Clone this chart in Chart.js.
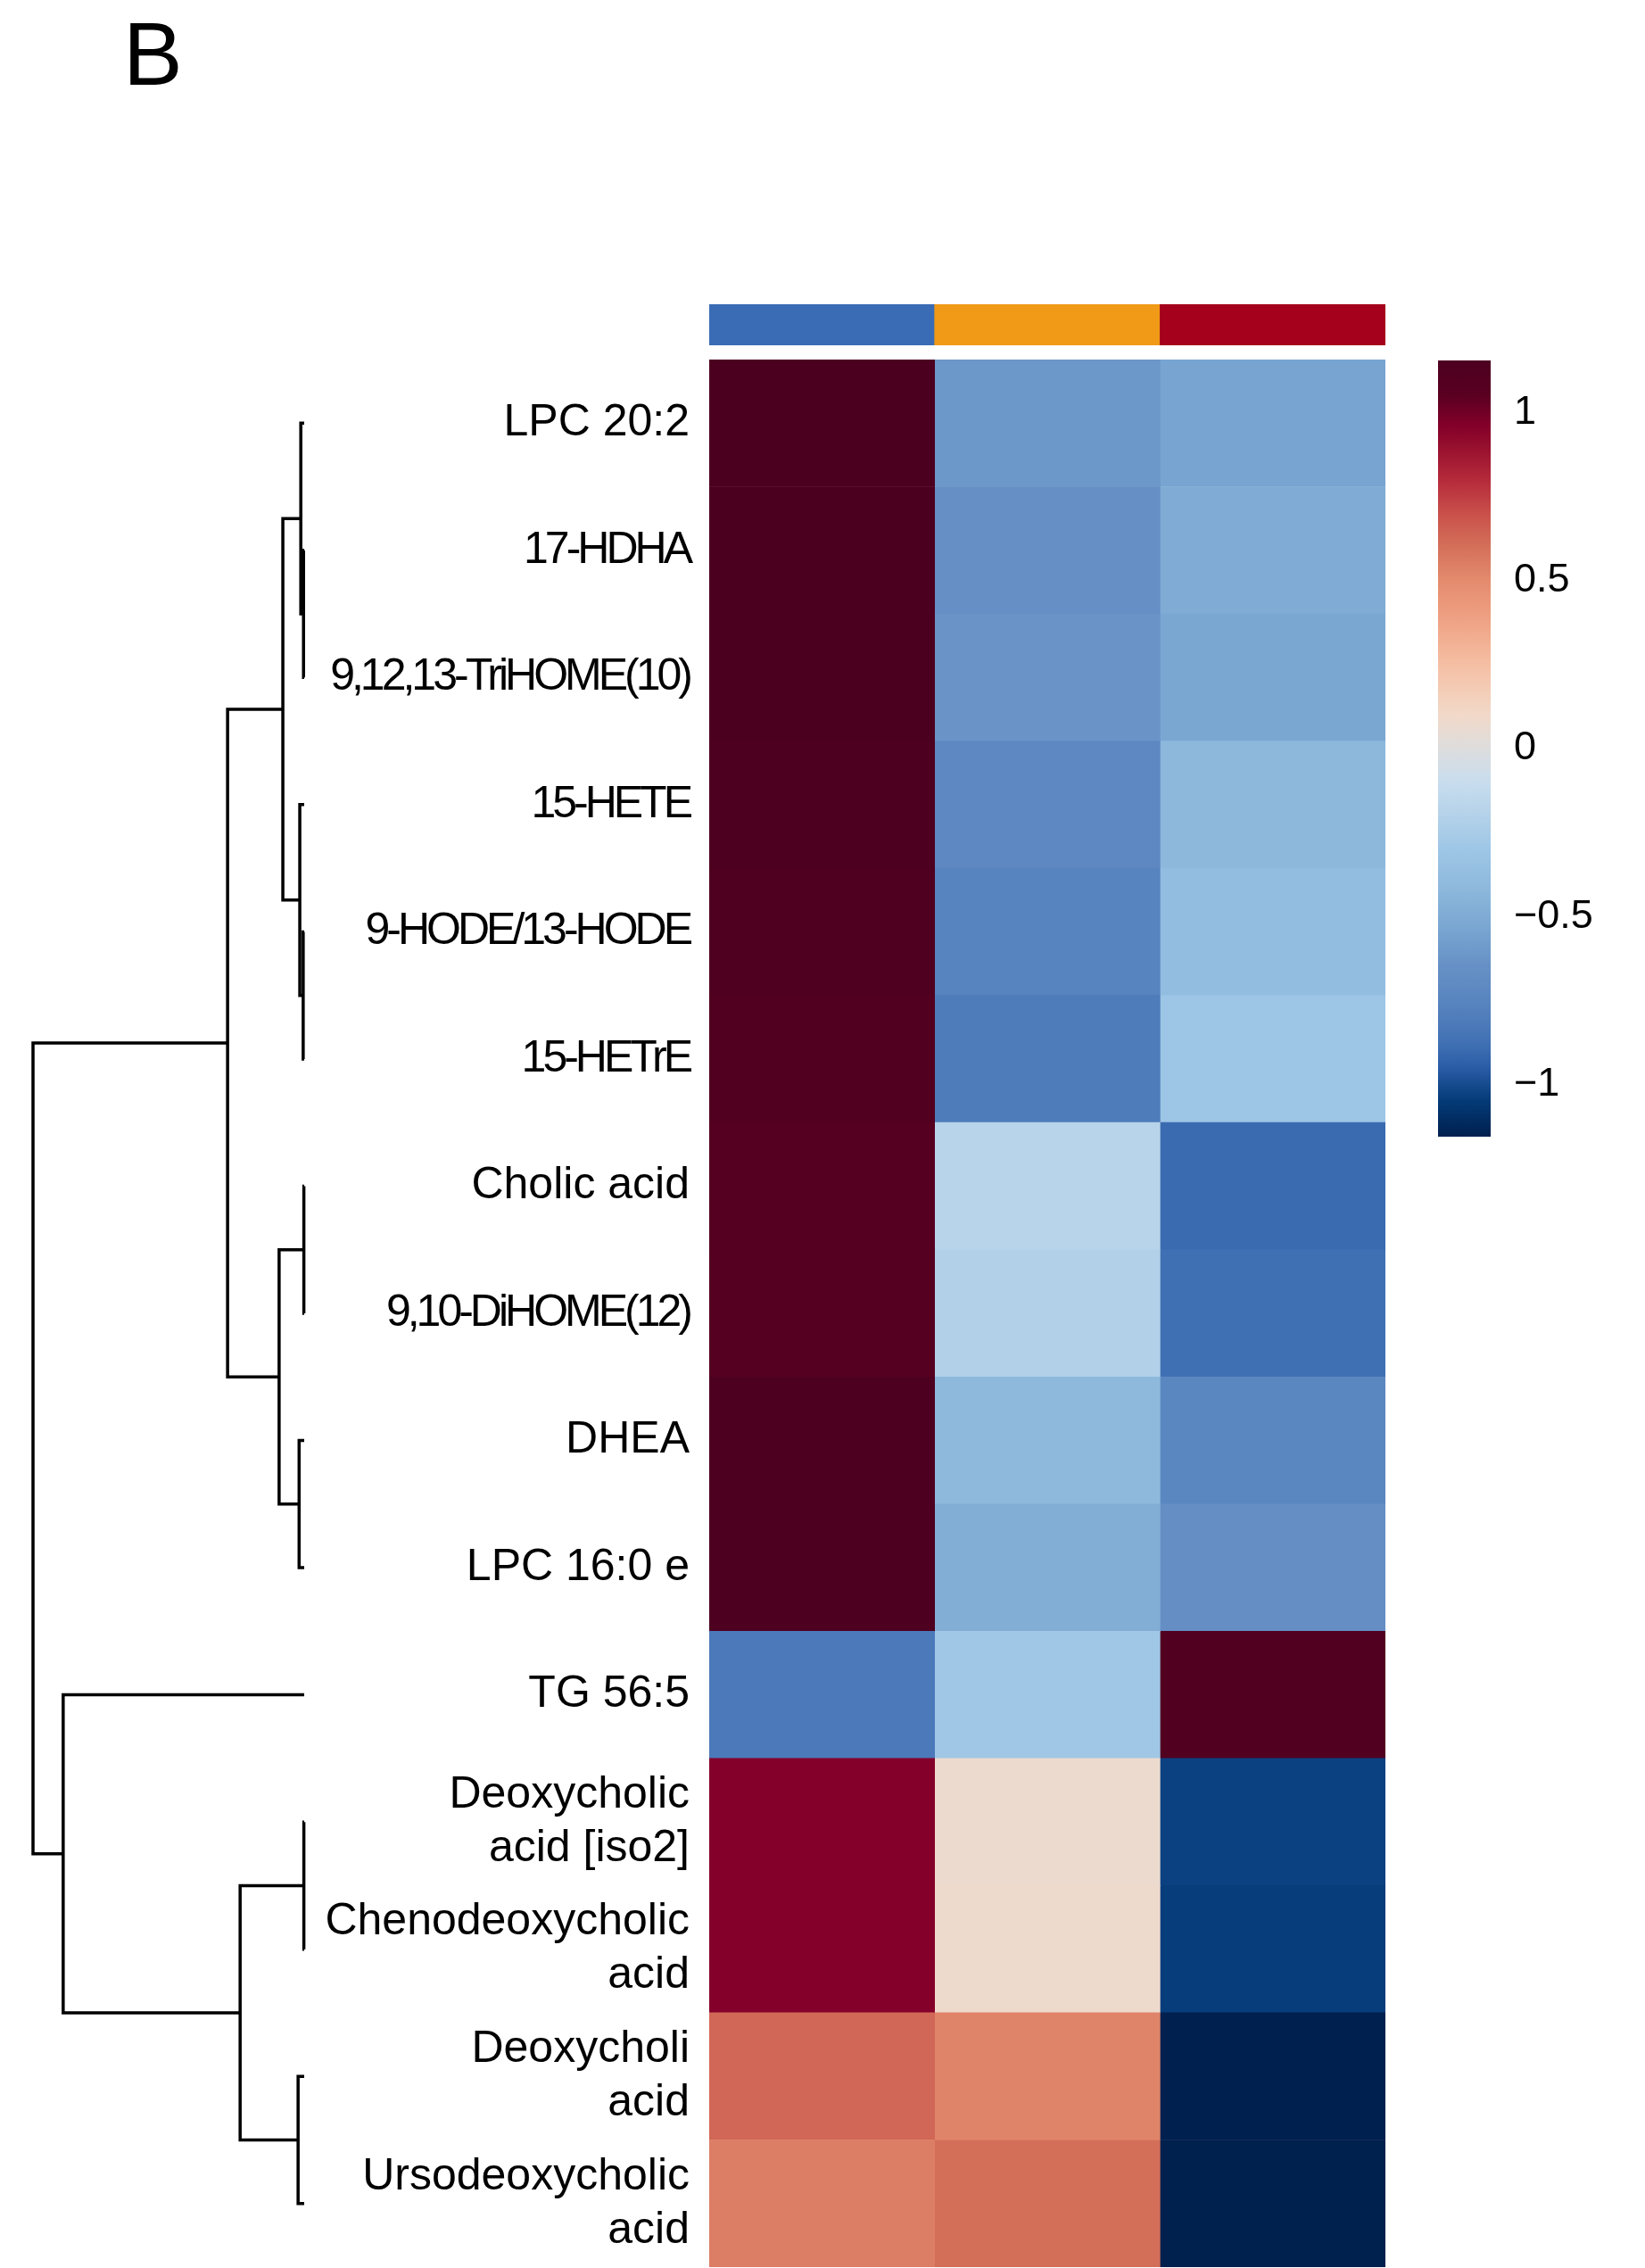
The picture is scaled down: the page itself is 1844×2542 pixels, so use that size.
<!DOCTYPE html>
<html>
<head>
<meta charset="utf-8">
<title>Heatmap B</title>
<script src="https://cdn.jsdelivr.net/npm/chart.js@4.4.1/dist/chart.umd.min.js"></script>
<style>
  html, body { margin: 0; padding: 0; background: #fff; }
  body { width: 1844px; height: 2542px; position: relative; overflow: hidden; }
  canvas { position: absolute; }
  #panel { position: absolute; left: 138px; top: 10px; font: 100px/100px "Liberation Sans", Arial, sans-serif; color: #000; }
</style>
</head>
<body>
<div id="panel">B</div>
<canvas id="dendro" width="345" height="2138" style="left:0;top:403px"></canvas>
<canvas id="annot" width="758" height="46" style="left:795px;top:341px"></canvas>
<canvas id="heat" width="1253" height="2138" style="left:300px;top:403px"></canvas>
<canvas id="cbar" width="232" height="870" style="left:1612px;top:404px"></canvas>
<script>
"use strict";
var rowLabels = [
    "LPC 20:2", "17-HDHA", "9,12,13-TriHOME(10)", "15-HETE", "9-HODE/13-HODE", "15-HETrE",
    "Cholic acid", "9,10-DiHOME(12)", "DHEA", "LPC 16:0 e", "TG 56:5",
    ["Deoxycholic", "acid [iso2]"], ["Chenodeoxycholic", "acid"], ["Deoxycholi", "acid"], ["Ursodeoxycholic", "acid"]
];
var narrowRows = [1, 2, 3, 4, 5, 7];
var groups = ["Group 1", "Group 2", "Group 3"];
var groupColors = ["#3a6cb5", "#f09a18", "#a5001c"];

// row z-scores, one array per column
var zCol1 = [1.154, 1.152, 1.153, 1.142, 1.134, 1.118, 1.077, 1.088, 1.140, 1.150, -0.822, 0.96, 0.96, 0.627, 0.547];
var zCol2 = [-0.612, -0.651, -0.627, -0.721, -0.757, -0.809, -0.179, -0.209, -0.410, -0.485, -0.292, 0.07, 0.08, 0.527, 0.607];
var zCol3 = [-0.542, -0.501, -0.527, -0.421, -0.377, -0.309, -0.899, -0.879, -0.730, -0.665, 1.114, -1.03, -1.04, -1.153, -1.154];

var colorTicks = [-1, -0.5, 0, 0.5, 1];
var zMin = -1.155, zMax = 1.155;

// dendrogram merges: [left, right, height]; leaves are 0..14, node k is 15+k
var merges = [
    [1, 2, 0.02], [0, 15, 0.10], [4, 5, 0.03], [3, 17, 0.13], [16, 18, 0.63],
    [6, 7, 0.01], [8, 9, 0.15], [20, 21, 0.74], [19, 22, 2.26],
    [11, 12, 0.01], [13, 14, 0.18], [24, 25, 1.89], [10, 26, 7.11], [23, 27, 8.0]
];

var palV = [-1.155, -1.05, -0.95, -0.88, -0.8, -0.74, -0.65, -0.55, -0.42, -0.3, -0.2, -0.1, 0, 0.1, 0.25, 0.4, 0.5, 0.6, 0.7, 0.8, 0.9, 0.96, 1.05, 1.155];
var palC = ["#00204e", "#033a76", "#2a5ca6", "#4070b4", "#507dbb", "#5a86c0", "#6690c5", "#76a3d0", "#8db8dc", "#9ec6e6", "#b4d2e9", "#c8ddee", "#dddddd",
    "#f2d9c9", "#f5bfa3", "#ee9e80", "#e48b6e", "#d4705a", "#c9504a", "#b52a3a", "#960f2e", "#84002a", "#5a0021", "#4c0020"];

function hex(c) { return [1, 3, 5].map(function(i) { return parseInt(c.substr(i, 2), 16); }); }
function zColor(v) {
    v = Math.max(zMin, Math.min(zMax, v));
    for (var i = 1; i < palV.length; i++) {
        if (v <= palV[i]) {
            var t = (v - palV[i - 1]) / (palV[i] - palV[i - 1]), a = hex(palC[i - 1]), b = hex(palC[i]);
            return "rgb(" + a.map(function(x, k) { return Math.round(x + (b[k] - x) * t); }).join(",") + ")";
        }
    }
    return palC[palC.length - 1];
}
function noPad(s) { s.paddingTop = 0; s.paddingBottom = 0; }

Chart.defaults.animation = false;
Chart.defaults.color = "#000";
Chart.defaults.font.family = "'Liberation Sans', Arial, sans-serif";
Chart.defaults.plugins.legend.display = false;
Chart.defaults.plugins.tooltip.enabled = false;

// the tightly set labels of the original get negative letter spacing
var narrowText = narrowRows.map(function(i) { return rowLabels[i]; });
var heatCanvas = document.getElementById("heat");
var hctx = heatCanvas.getContext("2d");
var plainFill = hctx.fillText;
hctx.fillText = function(t, x, y, w) {
    this.letterSpacing = narrowText.indexOf(t) >= 0 ? "-4px" : "0px";
    plainFill.call(this, t, x, y, w);
    this.letterSpacing = "0px";
};

// heatmap
new Chart(heatCanvas, {
    type: "bar",
    data: {
        labels: rowLabels,
        datasets: [zCol1, zCol2, zCol3].map(function(col) {
            return { data: col.map(function() { return 1; }), backgroundColor: col.map(zColor), borderWidth: 0 };
        })
    },
    options: {
        indexAxis: "y", responsive: false, devicePixelRatio: 1,
        datasets: { bar: { barPercentage: 1, categoryPercentage: 1 } },
        scales: {
            x: { display: false, stacked: true, min: 0, max: 3 },
            y: {
                stacked: true,
                grid: { display: false, drawTicks: false }, border: { display: false },
                ticks: { padding: 22, autoSkip: false, font: { size: 50, lineHeight: 1.2 } },
                afterFit: function(s) { s.width = 495; noPad(s); }
            }
        }
    }
});

// column annotation
new Chart(document.getElementById("annot"), {
    type: "bar",
    data: { labels: groups, datasets: [{ data: groups.map(function() { return 1; }), backgroundColor: groupColors, borderWidth: 0 }] },
    options: {
        responsive: false, devicePixelRatio: 1,
        datasets: { bar: { barPercentage: 1, categoryPercentage: 1 } },
        scales: { x: { display: false }, y: { display: false, min: 0, max: 1 } }
    }
});

// dendrogram
var nodeY = rowLabels.map(function(l, i) { return i; }), nodeH = rowLabels.map(function() { return 0; });
var dendroSets = merges.map(function(m) {
    var a = m[0], b = m[1], h = m[2];
    nodeY.push((nodeY[a] + nodeY[b]) / 2);
    nodeH.push(h);
    return {
        data: [{ x: nodeH[a], y: nodeY[a] }, { x: h, y: nodeY[a] }, { x: h, y: nodeY[b] }, { x: nodeH[b], y: nodeY[b] }],
        showLine: true, borderColor: "#000", borderWidth: 3.5, pointRadius: 0, borderJoinStyle: "miter", clip: false
    };
});
new Chart(document.getElementById("dendro"), {
    type: "scatter",
    data: { datasets: dendroSets },
    options: {
        responsive: false, devicePixelRatio: 1,
        layout: { padding: { left: 37, right: 4, top: 0, bottom: 0 } },
        scales: {
            x: { display: false, reverse: true, min: 0, max: 8 },
            y: { display: false, reverse: true, min: -0.5, max: rowLabels.length - 0.5 }
        }
    }
});

// colour key
new Chart(document.getElementById("cbar"), {
    type: "bar",
    data: {
        labels: ["z"],
        datasets: [{
            data: [[zMin, zMax]], borderWidth: 0,
            backgroundColor: function(c) {
                var ch = c.chart, y = ch.scales.y;
                if (!ch.chartArea || !y) return "#ccc";
                var top = y.getPixelForValue(zMax), bot = y.getPixelForValue(zMin);
                var g = ch.ctx.createLinearGradient(0, top, 0, bot);
                palV.forEach(function(v, i) { g.addColorStop((zMax - v) / (zMax - zMin), palC[i]); });
                return g;
            }
        }]
    },
    options: {
        responsive: false, devicePixelRatio: 1,
        datasets: { bar: { barPercentage: 1, categoryPercentage: 1 } },
        scales: {
            x: { display: false },
            y: {
                position: "right", min: zMin, max: zMax,
                grid: { display: false, drawTicks: false }, border: { display: false },
                afterBuildTicks: function(s) { s.ticks = colorTicks.map(function(v) { return { value: v }; }); },
                ticks: {
                    padding: 26, font: { size: 45 },
                    callback: function(v) { return v < 0 ? "\u2212" + Math.abs(v) : String(v); }
                },
                afterFit: function(s) { s.width = 173; noPad(s); }
            }
        }
    }
});
</script>
</body>
</html>
